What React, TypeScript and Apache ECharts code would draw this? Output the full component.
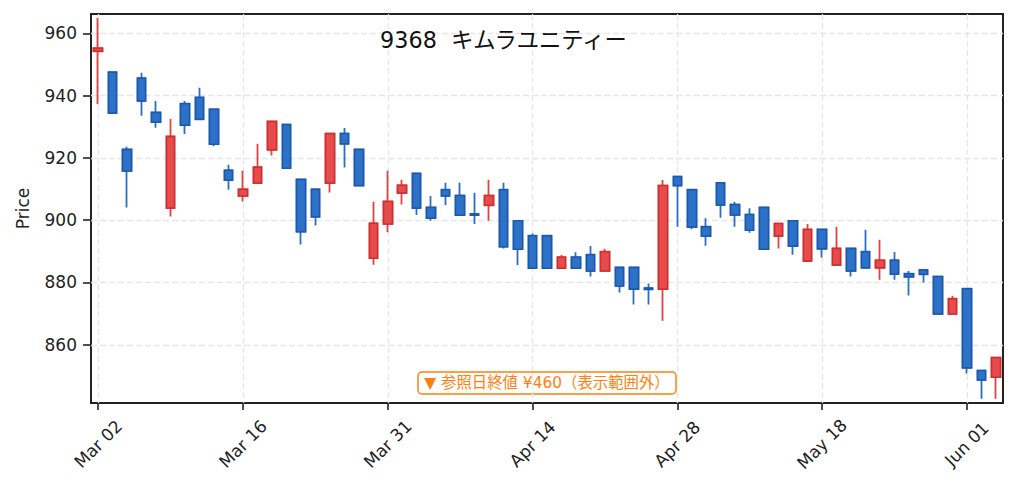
import React, { useEffect, useRef } from "react";
import * as echarts from "echarts";

const dates = [
  "Mar 02", "Mar 03", "Mar 04", "Mar 05", "Mar 06",
  "Mar 09", "Mar 10", "Mar 11", "Mar 12", "Mar 13",
  "Mar 16", "Mar 17", "Mar 18", "Mar 19",
  "Mar 23", "Mar 24", "Mar 25", "Mar 26", "Mar 27",
  "Mar 30", "Mar 31", "Apr 01", "Apr 02", "Apr 03",
  "Apr 06", "Apr 07", "Apr 08", "Apr 09", "Apr 10",
  "Apr 13", "Apr 14", "Apr 15", "Apr 16", "Apr 17",
  "Apr 20", "Apr 21", "Apr 22", "Apr 23", "Apr 24",
  "Apr 27", "Apr 28", "Apr 30", "May 01",
  "May 07", "May 08",
  "May 11", "May 12", "May 13", "May 14", "May 15",
  "May 18", "May 19", "May 20", "May 21", "May 22",
  "May 25", "May 26", "May 27", "May 28", "May 29",
  "Jun 01", "Jun 02", "Jun 03",
];

const opens = [
  954.2, 947.5, 922.7, 945.6, 934.6, 903.9, 937.4, 939.4, 935.6, 916.0,
  907.8, 911.9, 922.6, 930.7, 913.1, 909.9, 911.9, 927.8, 922.7, 887.8,
  898.8, 908.7, 915.0, 904.1, 909.8, 907.9, 902.0, 904.8, 909.8, 899.8,
  895.0, 895.0, 884.6, 888.1, 888.9, 883.7, 884.8, 884.8, 878.2, 877.9,
  914.0, 909.8, 897.9, 912.0, 905.0, 901.8, 904.1, 894.9, 899.8, 886.9,
  897.0, 885.6, 890.9, 889.9, 884.7, 887.1, 882.8, 884.0, 881.9, 869.9,
  878.0, 851.7, 849.6,
];

const closes = [
  955.2, 934.4, 915.8, 938.3, 931.5, 926.9, 930.5, 932.4, 924.4, 912.9,
  909.9, 917.0, 931.7, 916.7, 896.3, 901.1, 927.8, 924.5, 911.1, 899.0,
  906.0, 911.2, 903.9, 900.7, 907.8, 901.6, 901.6, 907.9, 891.5, 890.7,
  884.6, 884.6, 888.1, 884.6, 883.7, 889.9, 878.9, 877.9, 877.8, 911.1,
  911.1, 897.8, 894.9, 904.9, 901.7, 896.8, 890.7, 898.9, 891.7, 897.0,
  890.8, 890.9, 883.7, 884.7, 887.1, 882.7, 881.8, 882.6, 869.9, 874.8,
  852.6, 848.7, 855.9,
];

const lows = [
  937.3, 934.4, 904.1, 933.5, 929.7, 901.2, 927.7, 932.4, 923.7, 909.8,
  906.0, 911.9, 920.8, 916.7, 892.2, 898.3, 908.9, 916.9, 911.1, 885.7,
  896.1, 905.0, 901.7, 899.8, 904.9, 901.6, 898.8, 899.8, 890.9, 885.6,
  884.6, 884.6, 884.6, 884.6, 881.9, 883.7, 876.8, 872.9, 872.9, 867.7,
  897.9, 897.1, 891.8, 900.8, 897.9, 896.0, 890.7, 890.9, 888.9, 886.9,
  888.0, 885.6, 881.9, 884.7, 880.9, 880.9, 875.8, 880.0, 869.9, 869.9,
  850.8, 842.7, 842.7,
];

const highs = [
  964.9, 947.5, 923.6, 947.3, 938.3, 932.5, 938.3, 942.5, 935.6, 917.8,
  915.9, 924.5, 931.7, 930.7, 913.1, 909.9, 927.8, 929.6, 922.7, 905.9,
  915.9, 913.0, 915.0, 907.8, 912.0, 912.0, 908.8, 913.0, 912.0, 899.8,
  895.7, 895.0, 888.8, 889.7, 891.7, 890.8, 884.8, 884.8, 879.7, 912.9,
  914.0, 909.8, 900.6, 912.0, 905.8, 903.8, 904.1, 898.9, 899.8, 898.8,
  897.0, 897.8, 890.9, 896.9, 893.7, 889.8, 883.7, 884.0, 881.9, 875.7,
  878.0, 851.7, 855.9,
];

const yTicks = [860, 880, 900, 920, 940, 960];
const yMin = 841.3;
const yMax = 966.2;

const titleText = "9368  キムラユニティー";
const noteText = "▼ 参照日終値 ¥460（表示範囲外）";
const yName = "Price";

const FONT = "'DejaVu Sans', 'Noto Sans CJK JP', sans-serif";
const RED = "#e84b4b";
const RED_DARK = "#cc3030";
const BLUE = "#2c72c8";
const BLUE_DARK = "#1f58a8";
const ORANGE = "#ff7f0e";

export default function App() {
  const ref = useRef<HTMLDivElement>(null);

  useEffect(() => {
    if (!ref.current) return;
    const chart = echarts.init(ref.current, undefined, { renderer: "svg" });
    const showEvery = (i: number) => i % 10 === 0;
    const full = opens.map((o, i) => [o, closes[i], lows[i], highs[i]]);
    const bodies = opens.map((o, i) => [
      o,
      closes[i],
      Math.min(o, closes[i]),
      Math.max(o, closes[i]),
    ]);
    const gridLine = { color: "#e6e6e6", width: 1.3, type: [6, 3] as any };

    chart.setOption({
      animation: false,
      backgroundColor: "#ffffff",
      grid: {
        left: 91,
        right: 14,
        top: 14,
        bottom: 88,
        show: true,
        borderColor: "#222222",
        borderWidth: 2,
        backgroundColor: "transparent",
      },
      xAxis: {
        type: "category",
        data: dates,
        boundaryGap: true,
        axisLine: { show: false },
        axisTick: {
          show: true,
          alignWithLabel: true,
          interval: (i: number) => showEvery(i),
          length: 7,
          lineStyle: { color: "#222222", width: 1.6 },
        },
        axisLabel: {
          interval: (i: number) => showEvery(i),
          rotate: 45,
          align: "center",
          verticalAlign: "middle",
          margin: 41,
          fontSize: 17,
          fontFamily: FONT,
          color: "#222222",
        },
        splitLine: {
          show: true,
          alignWithLabel: true,
          interval: (i: number) => showEvery(i),
          lineStyle: gridLine,
        },
      },
      yAxis: {
        type: "value",
        min: yMin,
        max: yMax,
        splitNumber: 6,
        axisLine: { show: false },
        axisTick: {
          show: true,
          length: 8,
          customValues: yTicks,
          lineStyle: { color: "#222222", width: 1.6 },
        },
        axisLabel: {
          customValues: yTicks,
          margin: 14,
          fontSize: 17,
          fontFamily: FONT,
          color: "#222222",
          formatter: (v: number) => (yTicks.includes(Math.round(v * 10) / 10) ? String(v) : ""),
        },
        splitLine: { show: true, lineStyle: gridLine },
      },
      series: [
        {
          type: "candlestick",
          data: full,
          barWidth: 9,
          z: 2,
          itemStyle: {
            color: RED,
            color0: BLUE,
            borderColor: "#e04242",
            borderColor0: "#2a6ec6",
            borderWidth: 1.8,
          },
        },
        {
          type: "candlestick",
          data: bodies,
          barWidth: 9,
          z: 3,
          itemStyle: {
            color: RED,
            color0: BLUE,
            borderColor: RED_DARK,
            borderColor0: BLUE_DARK,
            borderWidth: 1.5,
          },
        },
      ],
      graphic: [
        {
          type: "text",
          x: 503.5,
          y: 40,
          z: 10,
          style: {
            text: titleText,
            fontSize: 22.3,
            fontFamily: FONT,
            fill: "#111111",
            align: "center",
            verticalAlign: "middle",
          },
        },
        {
          type: "text",
          x: 23,
          y: 208.5,
          rotation: Math.PI / 2,
          style: {
            text: yName,
            fontSize: 17,
            fontFamily: FONT,
            fill: "#222222",
            align: "center",
            verticalAlign: "middle",
          },
        },
        {
          type: "group",
          z: 10,
          children: [
            {
              type: "rect",
              shape: { x: 418, y: 372, width: 258, height: 22, r: 4 },
              style: { fill: "#ffffff", stroke: ORANGE, lineWidth: 1.5 },
            },
            {
              type: "text",
              x: 547,
              y: 383,
              style: {
                text: noteText,
                fontSize: 15.4,
                fontFamily: FONT,
                fill: ORANGE,
                align: "center",
                verticalAlign: "middle",
              },
            },
          ],
        },
      ],
    });
    return () => chart.dispose();
  }, []);

  return (
    <div
      ref={ref}
      style={{ position: "absolute", left: 0, top: 0, width: 1017, height: 491, background: "#fff" }}
    />
  );
}
